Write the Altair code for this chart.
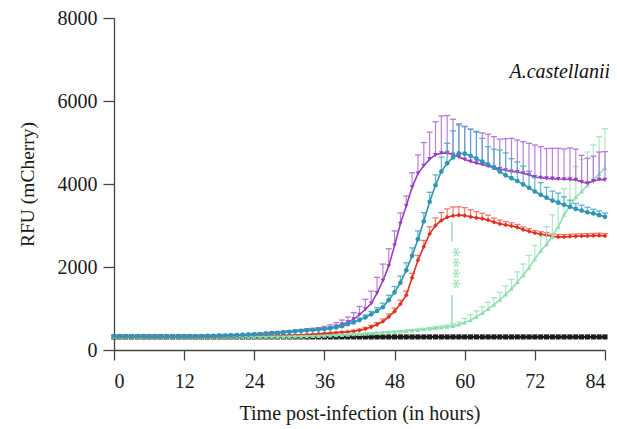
import altair as alt
import pandas as pd

hours = list(range(85))

teal = [338, 337, 336, 335, 335, 334, 334, 333, 333, 333,
        333, 333, 333, 334, 335, 337, 339, 342, 345, 348,
        352, 357, 363, 370, 378, 386, 395, 405, 415, 425,
        436, 448, 460, 472, 482, 492, 504, 520, 542, 575,
        620, 665, 720, 785, 860, 940, 1030, 1200, 1390, 1620,
        1920, 2270, 2670, 3100, 3570, 3970, 4300, 4500, 4640, 4740,
        4730, 4680, 4610, 4540, 4470, 4390, 4300, 4210, 4140, 4070,
        3990, 3910, 3820, 3740, 3670, 3600, 3550, 3500, 3450, 3400,
        3360, 3320, 3290, 3250, 3210]
teal_err = [10, 10, 10, 10, 10, 10, 10, 10, 10, 10,
            10, 10, 10, 10, 10, 10, 10, 10, 10, 10,
            10, 10, 10, 10, 10, 10, 10, 10, 10, 10,
            12, 14, 16, 18, 20, 22, 25, 28, 32, 36,
            40, 45, 50, 60, 70, 80, 100, 120, 140, 160,
            180, 190, 200, 210, 230, 250, 350, 480, 640, 680,
            650, 640, 660, 560, 430, 450, 520, 540, 470, 460,
            440, 400, 330, 290, 250, 230, 230, 190, 160, 130,
            130, 120, 100, 100, 90]

purple = [332, 331, 331, 330, 330, 330, 329, 329, 329, 329,
          329, 329, 329, 330, 331, 333, 335, 338, 341, 344,
          348, 353, 359, 366, 374, 382, 391, 401, 411, 421,
          432, 444, 456, 468, 478, 490, 508, 532, 568, 612,
          665, 740, 850, 980, 1120, 1370, 1670, 2020, 2520, 3040,
          3470, 3920, 4250, 4440, 4600, 4700, 4740, 4750, 4710, 4650,
          4590, 4540, 4500, 4470, 4430, 4400, 4360, 4330, 4300, 4290,
          4260, 4220, 4170, 4150, 4135, 4130, 4120, 4115, 4110, 4100,
          4050, 4020, 4070, 4110, 4100]
purple_err = [15, 15, 15, 15, 15, 15, 15, 15, 15, 15,
              15, 15, 15, 15, 15, 15, 15, 15, 15, 15,
              15, 15, 15, 15, 18, 20, 22, 25, 28, 30,
              32, 35, 38, 42, 46, 50, 60, 75, 90, 110,
              130, 160, 200, 240, 300, 380, 400, 420, 350, 260,
              240, 350, 450, 560, 650, 800, 900, 900, 850, 800,
              800, 780, 750, 760, 770, 740, 720, 760, 800, 770,
              760, 760, 770, 750, 720, 730, 740, 730, 760, 740,
              640, 600, 600, 660, 680]

red = [324, 323, 322, 322, 322, 322, 322, 322, 322, 322,
       322, 322, 322, 322, 322, 322, 322, 323, 323, 324,
       325, 326, 327, 328, 329, 330, 331, 332, 334, 337,
       340, 347, 355, 364, 374, 384, 394, 404, 414, 424,
       434, 450, 472, 507, 552, 612, 687, 800, 930, 1110,
       1320, 1740, 2160, 2490, 2800, 3000, 3120, 3200, 3235, 3250,
       3240, 3210, 3185, 3165, 3130, 3080, 3040, 3015, 2990, 2955,
       2900, 2860, 2820, 2790, 2770, 2735, 2725, 2725, 2735, 2740,
       2745, 2750, 2755, 2760, 2750]
red_err = [8, 8, 8, 8, 8, 8, 8, 8, 8, 8,
           8, 8, 8, 8, 8, 8, 8, 8, 8, 8,
           8, 8, 8, 8, 8, 8, 8, 8, 8, 8,
           10, 10, 10, 12, 12, 14, 14, 16, 16, 18,
           20, 25, 30, 35, 40, 50, 60, 70, 80, 90,
           100, 110, 120, 150, 170, 180, 190, 200, 210, 200,
           190, 170, 150, 130, 120, 100, 90, 80, 75, 70,
           65, 65, 60, 60, 60, 60, 60, 55, 55, 55,
           55, 55, 55, 55, 55]

green = [318, 318, 318, 318, 318, 318, 318, 318, 318, 318,
         318, 318, 318, 318, 318, 318, 318, 318, 318, 318,
         318, 318, 318, 318, 319, 319, 320, 320, 321, 321,
         322, 325, 328, 332, 336, 340, 345, 350, 356, 362,
         370, 378, 386, 395, 404, 413, 422, 430, 438, 448,
         460, 472, 485, 498, 512, 528, 542, 558, 580, 615,
         660, 720, 800, 890, 990, 1090, 1210, 1340, 1480, 1640,
         1800, 1980, 2190, 2390, 2550, 2740, 2970, 3260, 3470, 3680,
         3820, 3970, 4100, 4240, 4390]
green_err = [10, 10, 10, 10, 10, 10, 10, 10, 10, 10,
             10, 10, 10, 10, 10, 10, 10, 10, 10, 10,
             10, 10, 10, 10, 10, 10, 10, 10, 10, 10,
             10, 10, 10, 10, 10, 10, 10, 10, 10, 10,
             12, 12, 12, 14, 14, 14, 16, 16, 18, 18,
             20, 20, 25, 25, 30, 35, 40, 45, 50, 60,
             100, 130, 140, 150, 160, 170, 180, 200, 220, 240,
             270, 300, 330, 340, 420, 520, 640, 630, 700, 740,
             770, 800, 840, 900, 940]

black = [315, 315, 315, 315, 315, 315, 315, 315, 315, 315,
         315, 315, 315, 315, 315, 315, 315, 315, 315, 315,
         315, 315, 315, 315, 315, 315, 315, 315, 315, 315,
         315, 315, 315, 315, 315, 315, 315, 315, 315, 315,
         315, 315, 315, 315, 315, 315, 315, 315, 315, 315,
         315, 315, 315, 315, 315, 315, 315, 315, 315, 315,
         315, 315, 315, 315, 315, 315, 315, 315, 315, 315,
         315, 315, 315, 315, 315, 315, 315, 315, 315, 315,
         315, 315, 315, 315, 315]

x_ticks = [0, 12, 24, 36, 48, 60, 72, 84]
y_ticks = [0, 2000, 4000, 6000, 8000]

# significance annotation
sig_t = 57.8
sig_segments = [(3090, 2610), (1325, 560)]
sig_label = "****"
sig_label_v = 1976
label_text = "A.castellanii"
label_t = 84
label_v = 6700

FONT = "Liberation Serif"

xscale = alt.Scale(domain=[0, 84], nice=False, zero=False)
yscale = alt.Scale(domain=[0, 8000], nice=False)

xax = alt.Axis(values=x_ticks, title="Time post-infection (in hours)", grid=False, format="d",
               tickSize=10, labelPadding=11, titlePadding=12)
yax = alt.Axis(values=y_ticks, title="RFU (mCherry)", grid=False, format="d",
               tickSize=11, labelPadding=6, titlePadding=20, titleFontSize=19.5)

series = [
    ("black", black, None, "#1b1b1b", None, "square"),
    ("red", red, red_err, "#e2301f", "#ec6b5e", "diamond"),
    ("green", green, green_err, "#8fdfae", "#9ce6bc", "triangle-up"),
    ("purple", purple, purple_err, "#9b3dbf", "#b36ad1", "triangle-down"),
    ("teal", teal, teal_err, "#2e96b5", "#4ea9c6", "circle"),
]

layers = []
for name, vals, errs, col, ecol, shape in series:
    df = pd.DataFrame({"t": hours, "v": vals})
    if errs is not None:
        df["hi"] = [v + e for v, e in zip(vals, errs)]
        base = alt.Chart(df)
        layers.append(base.mark_rule(color=ecol, strokeWidth=1.2, opacity=0.85).encode(
            x=alt.X("t:Q", scale=xscale, axis=xax),
            y=alt.Y("v:Q", scale=yscale, axis=yax),
            y2="hi:Q"))
        layers.append(base.mark_tick(color=ecol, orient="horizontal", size=6, thickness=1.3, opacity=0.9).encode(
            x=alt.X("t:Q", scale=xscale, axis=xax),
            y=alt.Y("hi:Q", scale=yscale, axis=yax)))
    base = alt.Chart(df)
    is_black = name == "black"
    layers.append(base.mark_line(color=col, strokeWidth=2.0 if is_black else 1.6).encode(
        x=alt.X("t:Q", scale=xscale, axis=xax),
        y=alt.Y("v:Q", scale=yscale, axis=yax)))
    layers.append(base.mark_point(color=col, filled=True, opacity=1, shape=shape,
                                  size=26 if is_black else 22).encode(
        x=alt.X("t:Q", scale=xscale, axis=xax),
        y=alt.Y("v:Q", scale=yscale, axis=yax)))

seg_df = pd.DataFrame({"t": [sig_t] * len(sig_segments),
                       "a": [s[0] for s in sig_segments],
                       "b": [s[1] for s in sig_segments]})
layers.append(alt.Chart(seg_df).mark_rule(color="#98e2b8", strokeWidth=1.5).encode(
    x=alt.X("t:Q", scale=xscale, axis=xax),
    y=alt.Y("a:Q", scale=yscale, axis=yax), y2="b:Q"))

star_df = pd.DataFrame({"t": [sig_t], "v": [sig_label_v], "s": [sig_label]})
layers.append(alt.Chart(star_df).mark_text(color="#98e2b8", font=FONT, fontSize=21, baseline="middle",
                                             align="center", angle=90).encode(
    x=alt.X("t:Q", scale=xscale, axis=xax),
    y=alt.Y("v:Q", scale=yscale, axis=yax), text="s:N"))

lab_df = pd.DataFrame({"t": [label_t], "v": [label_v], "s": [label_text]})
layers.append(alt.Chart(lab_df).mark_text(color="#111", font=FONT, fontSize=20, fontStyle="italic",
                                            baseline="middle", align="right", dx=5).encode(
    x=alt.X("t:Q", scale=xscale, axis=xax),
    y=alt.Y("v:Q", scale=yscale, axis=yax), text="s:N"))

chart = alt.layer(*layers).properties(
    width=491, height=332,
    autosize=alt.AutoSizeParams(type="none"),
    padding={"left": 106, "top": 10, "right": 4, "bottom": 79},
    background="white",
).configure_view(stroke=None).configure_axis(
    labelFont=FONT, titleFont=FONT, labelFontSize=20, titleFontSize=20,
    titleFontWeight="normal", labelColor="#1a1a1a", titleColor="#1a1a1a",
    domainColor="#444", tickColor="#444", domainWidth=1.3, tickWidth=1.3,
)

chart.save("out.html", embed_options={"renderer": "svg", "actions": False})
